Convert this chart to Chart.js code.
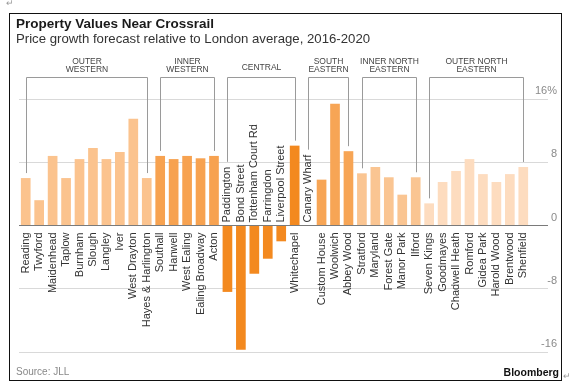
<!DOCTYPE html>
<html>
<head>
<meta charset="utf-8">
<script src="https://cdn.jsdelivr.net/npm/chart.js@4.4.1/dist/chart.umd.min.js"></script>
<style>
  body { margin: 0; background: #fff; font-family: "Liberation Sans", Arial, sans-serif; }
  #wrap { position: relative; width: 572px; height: 391px; }
  #chart { position: absolute; left: 0; top: 0; }
  .txt { position: absolute; white-space: nowrap; line-height: 1; }
  #frame { position: absolute; left: 9px; top: 13px; width: 553px; height: 368px; border: 1.5px solid #111; box-sizing: border-box; }
  #title { left: 16px; top: 16.6px; font-size: 13.5px; font-weight: bold; color: #1a1a1a; }
  #subtitle { left: 16px; top: 32.1px; font-size: 13.2px; color: #333; }
  #source { left: 16px; top: 366.5px; font-size: 10px; color: #888; }
  #brand { right: 13px; top: 366.8px; font-size: 10.5px; font-weight: bold; color: #111; }
  .mark { font-size: 9px; color: #999; }
</style>
</head>
<body>
<div id="wrap">
  <canvas id="chart" width="572" height="391"></canvas>
  <div id="frame"></div>
  <div class="txt mark" style="left:6px; top:-1px;">↵</div>
  <div class="txt" id="title">Property Values Near Crossrail</div>
  <div class="txt" id="subtitle">Price growth forecast relative to London average, 2016-2020</div>
  <div class="txt" id="source">Source: JLL</div>
  <div class="txt" id="brand">Bloomberg</div>
  <div class="txt mark" style="left:563px; top:372px;">↵</div>
</div>
<script>
// stations along the line, west to east
const stations = [
  "Reading", "Twyford", "Maidenhead", "Taplow", "Burnham", "Slough", "Langley", "Iver", "West Drayton", "Hayes & Harlington",
  "Southall", "Hanwell", "West Ealing", "Ealing Broadway", "Acton",
  "Paddington", "Bond Street", "Tottenham Court Rd", "Farringdon", "Liverpool Street", "Whitechapel",
  "Canary Wharf", "Custom House", "Woolwich", "Abbey Wood",
  "Stratford", "Maryland", "Forest Gate", "Manor Park", "Ilford",
  "Seven Kings", "Goodmayes", "Chadwell Heath", "Romford", "Gidea Park", "Harold Wood", "Brentwood", "Shenfield"
];

// growth relative to London average, %
const growth = [
  6.0, 3.2, 8.8, 6.0, 8.4, 9.8, 8.4, 9.3, 13.5, 6.0,
  8.8, 8.4, 8.8, 8.5, 8.8,
  -8.4, -15.7, -6.1, -4.2, -2.0, 10.1,
  0, 5.8, 15.4, 9.4,
  6.6, 7.4, 6.1, 3.9, 6.1,
  2.8, 5.5, 6.9, 8.4, 6.5, 5.5, 6.5, 7.4
];

const groupNames = [["OUTER", "WESTERN"], ["INNER", "WESTERN"], ["CENTRAL"], ["SOUTH", "EASTERN"], ["INNER NORTH", "EASTERN"], ["OUTER NORTH", "EASTERN"]];
const groupSizes = [10, 5, 6, 4, 5, 8];
const groupColors = ["#fbc38e", "#f7a250", "#f3891f", "#f7a555", "#fac592", "#fddcbf"];

const yTicks = [-16, -8, 0, 8, 16];

const barColors = [];
groupSizes.forEach((n, g) => {
  for (let i = 0; i < n; i++) barColors.push(groupColors[g]);
});

const FONT = '"Liberation Sans", Arial, sans-serif';

const stationLabels = {
  id: "stationLabels",
  afterDatasetsDraw(chart) {
    const ctx = chart.ctx;
    const x = chart.scales.x;
    const y = chart.scales.y;
    const zero = y.getPixelForValue(0);
    const tops = [];

    ctx.save();
    ctx.font = "11px " + FONT;
    ctx.fillStyle = "#333";
    ctx.textBaseline = "middle";
    stations.forEach((name, i) => {
      const px = x.getPixelForValue(i);
      const w = ctx.measureText(name).width;
      ctx.save();
      if (growth[i] > 0) {
        ctx.translate(px, zero + 7);
        ctx.rotate(-Math.PI / 2);
        ctx.textAlign = "right";
        tops.push(y.getPixelForValue(growth[i]));
      } else {
        ctx.translate(px, zero - 3);
        ctx.rotate(-Math.PI / 2);
        ctx.textAlign = "left";
        tops.push(zero - 3 - w);
      }
      ctx.fillText(name, 0, 0);
      ctx.restore();
    });

    // group brackets and headings
    const barY = 77.5;
    let start = 0;
    groupSizes.forEach((n, g) => {
      const s = start, e = start + n - 1;
      const xs = Math.round(x.getPixelForValue(s)) + 0.5;
      const xe = Math.round(x.getPixelForValue(e)) + 0.5;
      ctx.strokeStyle = "#9a9a9a";
      ctx.lineWidth = 1;
      ctx.beginPath();
      ctx.moveTo(xs, tops[s] - 5);
      ctx.lineTo(xs, barY);
      ctx.lineTo(xe, barY);
      ctx.lineTo(xe, tops[e] - 5);
      ctx.stroke();

      ctx.font = "8.5px " + FONT;
      ctx.fillStyle = "#444";
      ctx.textAlign = "center";
      ctx.textBaseline = "alphabetic";
      const lines = groupNames[g];
      const base = lines.length === 2 ? [63.5, 72] : [69.5];
      lines.forEach((t, k) => ctx.fillText(t, (xs + xe) / 2, base[k]));
      start += n;
    });
    ctx.restore();
  }
};

new Chart(document.getElementById("chart"), {
  type: "bar",
  data: {
    labels: stations,
    datasets: [{
      data: growth,
      backgroundColor: barColors,
      barPercentage: 0.72,
      categoryPercentage: 1
    }]
  },
  options: {
    responsive: false,
    animation: false,
    devicePixelRatio: 1,
    layout: { padding: { left: 19, right: 15, top: 99, bottom: 39 } },
    plugins: {
      legend: { display: false },
      tooltip: { enabled: false }
    },
    scales: {
      x: { display: false },
      y: {
        position: "right",
        min: -16,
        max: 16,
        afterFit: (scale) => { scale.width = 27; },
        afterBuildTicks: (scale) => { scale.ticks = yTicks.map(v => ({ value: v })); },
        border: { display: false },
        grid: {
          color: (c) => (c.tick && c.tick.value === 0 ? "#7a7a7a" : "#d9d9d9"),
          tickLength: 18
        },
        ticks: {
          crossAlign: "far",
          padding: -13,
          labelOffset: -8,
          color: "#8a8a8a",
          font: { family: FONT, size: 11 },
          callback: (v) => (v === 16 ? "16%" : String(v))
        }
      }
    }
  },
  plugins: [stationLabels]
});
</script>
</body>
</html>
